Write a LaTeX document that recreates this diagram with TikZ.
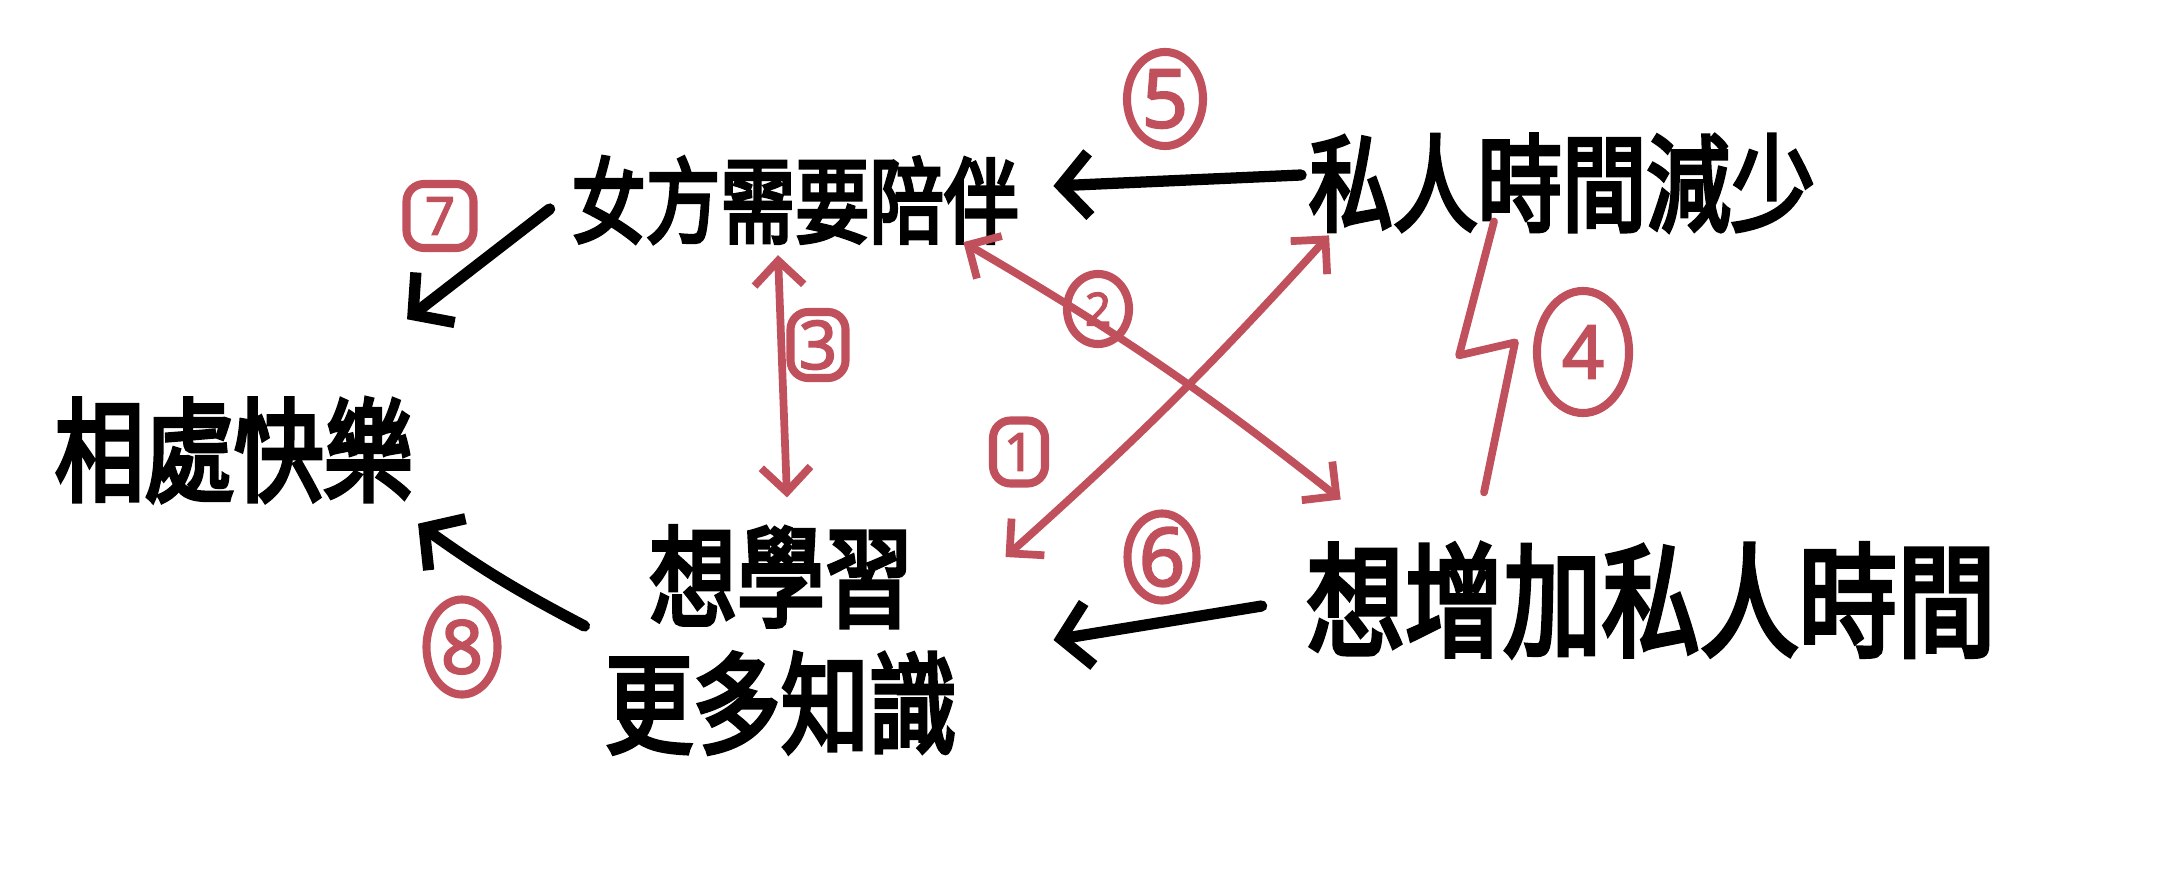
\documentclass[tikz,border=0pt]{standalone}
\usepackage{fontspec}
\usepackage{graphicx}
\usetikzlibrary{arrows.meta,calc,shapes.geometric}
\newfontfamily\hand[FakeBold=4]{Noto Sans CJK TC}
\newfontfamily\numfont[FakeBold=2.5]{Noto Sans}
\definecolor{pen}{HTML}{C0505C}
\newcommand{\tall}[1]{\scalebox{1}[1.25]{#1}}

\begin{document}
\begin{tikzpicture}[x=0.01cm,y=-0.01cm,
  idea/.style={inner sep=0pt, align=center},
  blackarrow/.style={line width=3.2pt, line cap=round, line join=round,
    -{Straight Barb[length=8pt,width=18pt,line width=3.2pt]}},
  redline/.style={draw=pen, line width=2.2pt, line cap=round, line join=round},
  redtwoway/.style={redline, {Straight Barb[length=7pt,width=14pt,line width=2.2pt]}-{Straight Barb[length=7pt,width=14pt,line width=2.2pt]}},
  tag/.style={draw=pen, line width=2.3pt, text=pen, inner sep=0pt, ellipse},
  boxtag/.style={draw=pen, line width=2.3pt, text=pen, inner sep=0pt, rectangle, rounded corners=5pt}
]
\useasboundingbox (0,0) rectangle (2158,879);

% statements
\node[idea, font=\hand\fontsize{21.2}{26}\selectfont] (partner) at (795,200) {\tall{女方需要陪伴}};
\node[idea, font=\hand\fontsize{24}{30}\selectfont] (priv) at (1562,183) {\tall{私人時間減少}};
\node[idea, font=\hand\fontsize{25.5}{32}\selectfont] (happy) at (234,450) {\tall{相處快樂}};
\node[idea, font=\hand\fontsize{25}{36}\selectfont] (learn) at (781,640) {\tall{想學習}\\\tall{更多知識}};
\node[idea, font=\hand\fontsize{28}{34}\selectfont] (want) at (1651,600) {\tall{想增加私人時間}};

% black consequences
\draw[blackarrow] ($(priv.west)+(-7,-8)$) -- ($(partner.east)+(34,-14)$);
\draw[blackarrow] ($(partner.west)+(-21,9)$) -- ($(happy.north east)+(-7,-78)$);
\draw[blackarrow] ($(learn.west)+(-20,-14)$) to[bend left=4] ($(happy.south east)+(4,21)$);
\draw[blackarrow] ($(want.west)+(-44,6)$) -- ($(learn.east)+(96,0)$);

% red links
\draw[redtwoway] ($(partner.south)+(-17,11)$) -- ($(learn.north)+(6,-28)$);
\draw[redtwoway] ($(partner.south east)+(-56,-2)$) to[bend left=4] ($(want.north west)+(35,-43)$);
\draw[redtwoway] ($(priv.south west)+(21,3)$) to[bend left=3] ($(learn.east)+(48,-83)$);
\draw[redline] ($(priv.south)+(-68,-11)$) -- ++(-35,134) -- ++(56,-13) -- ++(-31,150);

% numbered tags
\node[tag, minimum width=0.76cm, minimum height=0.94cm, font=\numfont\fontsize{23}{23}\selectfont] (t5) at (1165,99) {5};
\node[boxtag, minimum width=0.67cm, minimum height=0.64cm, font=\numfont\fontsize{15}{15}\selectfont] (t7) at (440,216) {7};
\node[boxtag, minimum width=0.55cm, minimum height=0.66cm, font=\numfont\fontsize{19}{19}\selectfont] (t3) at (818,345) {3};
\node[tag, minimum width=0.62cm, minimum height=0.70cm, font=\numfont\fontsize{13}{13}\selectfont] (t2) at (1098,309) {2};
\node[tag, minimum width=0.92cm, minimum height=1.22cm, font=\numfont\fontsize{21}{21}\selectfont] (t4) at (1583,352) {4};
\node[boxtag, minimum width=0.52cm, minimum height=0.63cm, font=\numfont\fontsize{15}{15}\selectfont] (t1) at (1019,452) {1};
\node[tag, minimum width=0.69cm, minimum height=0.87cm, font=\numfont\fontsize{23}{23}\selectfont] (t6) at (1162,557) {6};
\node[tag, minimum width=0.71cm, minimum height=0.95cm, font=\numfont\fontsize{21}{21}\selectfont] (t8) at (462,647) {8};
\end{tikzpicture}
\end{document}
